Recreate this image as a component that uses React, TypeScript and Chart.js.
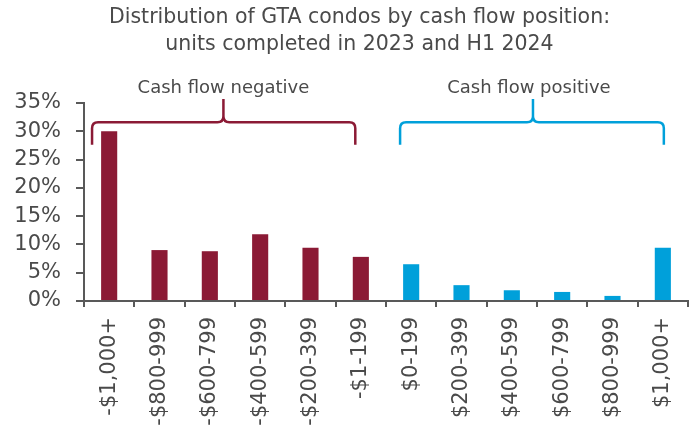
import React, { useEffect, useRef } from "react";
import { Chart, registerables } from "chart.js";

Chart.register(...registerables);

// ---- data ----
const categories = [
  "-$1,000+",
  "-$800-999",
  "-$600-799",
  "-$400-599",
  "-$200-399",
  "-$1-199",
  "$0-199",
  "$200-399",
  "$400-599",
  "$600-799",
  "$800-999",
  "$1,000+",
];
const shares = [30.0, 9.0, 8.8, 11.8, 9.4, 7.8, 6.5, 2.8, 1.9, 1.6, 0.9, 9.4];
const isNegative = [true, true, true, true, true, true, false, false, false, false, false, false];
const titleLines = [
  "Distribution of GTA condos by cash flow position:",
  "units completed in 2023 and H1 2024",
];
const yMax = 35;
const yStep = 5;

// brace annotations (x in category index units, y in % units)
const braceLabels = ["Cash flow negative", "Cash flow positive"];
const braceStart = [-0.34, 5.78];
const braceEnd = [4.89, 11.02];
const braceMid = [2.27, 8.42];
const braceLabelX = [2.27, 8.34];
const braceEndY = 27.6;
const braceBarY = 31.6;
const braceTipY = 35.7;
const braceLabelY = 37.6;

// ---- styles ----
const NEG_COLOR = "#8B1A35";
const POS_COLOR = "#00A0DA";
const TEXT_COLOR = "#4a4a4a";
const AXIS_COLOR = "#595959";
const FONT = "'DejaVu Sans', sans-serif";
const TITLE_CENTER_X = 359.5;
const TITLE_LINE_Y = [17.5, 44.5];

const titlePlugin = {
  id: "customTitle",
  afterDraw(chart: any) {
    const { ctx } = chart;
    ctx.save();
    ctx.fillStyle = TEXT_COLOR;
    ctx.font = `20.5px ${FONT}`;
    ctx.textAlign = "center";
    ctx.textBaseline = "middle";
    titleLines.forEach((line, i) => ctx.fillText(line, TITLE_CENTER_X, TITLE_LINE_Y[i]));
    ctx.restore();
  },
};

const bracePlugin = {
  id: "braces",
  afterDraw(chart: any) {
    const { ctx, scales } = chart;
    const x = scales.x;
    const y = scales.y;
    const c0 = x.getPixelForValue(0);
    const catW = x.getPixelForValue(1) - c0;
    const px = (v: number) => c0 + v * catW;
    const r = 6;
    ctx.save();
    braceLabels.forEach((label, i) => {
      const color = i === 0 ? NEG_COLOR : POS_COLOR;
      const xl = px(braceStart[i]);
      const xr = px(braceEnd[i]);
      const xm = px(braceMid[i]);
      const yE = y.getPixelForValue(braceEndY);
      const yB = y.getPixelForValue(braceBarY);
      const yT = y.getPixelForValue(braceTipY);
      ctx.strokeStyle = color;
      ctx.lineWidth = 2.5;
      ctx.lineCap = "butt";
      ctx.lineJoin = "round";
      ctx.beginPath();
      ctx.moveTo(xl, yE);
      ctx.lineTo(xl, yB + r);
      ctx.quadraticCurveTo(xl, yB, xl + r, yB);
      ctx.lineTo(xm - r, yB);
      ctx.quadraticCurveTo(xm, yB, xm, yB - r);
      ctx.lineTo(xm, yT);
      ctx.moveTo(xm, yB - r);
      ctx.quadraticCurveTo(xm, yB, xm + r, yB);
      ctx.lineTo(xr - r, yB);
      ctx.quadraticCurveTo(xr, yB, xr, yB + r);
      ctx.lineTo(xr, yE);
      ctx.stroke();

      ctx.fillStyle = TEXT_COLOR;
      ctx.font = `18px ${FONT}`;
      ctx.textAlign = "center";
      ctx.textBaseline = "middle";
      ctx.fillText(label, px(braceLabelX[i]), y.getPixelForValue(braceLabelY));
    });
    ctx.restore();
  },
};

export default function App() {
  const canvasRef = useRef<HTMLCanvasElement | null>(null);

  useEffect(() => {
    document.body.style.margin = "0";
    const canvas = canvasRef.current;
    if (!canvas) return;
    Chart.defaults.font.family = FONT;
    const chart = new Chart(canvas, {
      type: "bar",
      data: {
        labels: categories,
        datasets: [
          {
            data: shares,
            backgroundColor: isNegative.map((n) => (n ? NEG_COLOR : POS_COLOR)),
            barPercentage: 0.32,
            categoryPercentage: 1,
          },
        ],
      },
      options: {
        animation: false,
        responsive: true,
        maintainAspectRatio: false,
        layout: { padding: { left: 0, right: 11, top: 103, bottom: 0 } },
        plugins: {
          legend: { display: false },
          tooltip: { enabled: false },
          title: { display: false },
        },
        scales: {
          x: {
            ticks: {
              autoSkip: false,
              maxRotation: 90,
              minRotation: 90,
              color: TEXT_COLOR,
              font: { size: 21, family: FONT },
              padding: 10,
            },
            grid: {
              drawOnChartArea: false,
              drawTicks: true,
              tickLength: 6,
              color: AXIS_COLOR,
              lineWidth: 2,
              offset: true,
            },
            border: { display: true, color: AXIS_COLOR, width: 2 },
            afterFit: (s: any) => {
              s.height = 125;
            },
          },
          y: {
            min: 0,
            max: yMax,
            ticks: {
              stepSize: yStep,
              callback: (v: any) => `${v}%`,
              color: TEXT_COLOR,
              font: { size: 21, family: FONT },
              padding: 15,
            },
            grid: {
              drawOnChartArea: false,
              drawTicks: true,
              tickLength: 8,
              color: AXIS_COLOR,
              lineWidth: 2,
            },
            border: { display: true, color: AXIS_COLOR, width: 2 },
            afterFit: (s: any) => {
              s.width = 84;
            },
          },
        },
      },
      plugins: [titlePlugin, bracePlugin],
    });
    return () => chart.destroy();
  }, []);

  return (
    <div style={{ width: 699, height: 426, position: "relative" }}>
      <canvas ref={canvasRef} />
    </div>
  );
}
